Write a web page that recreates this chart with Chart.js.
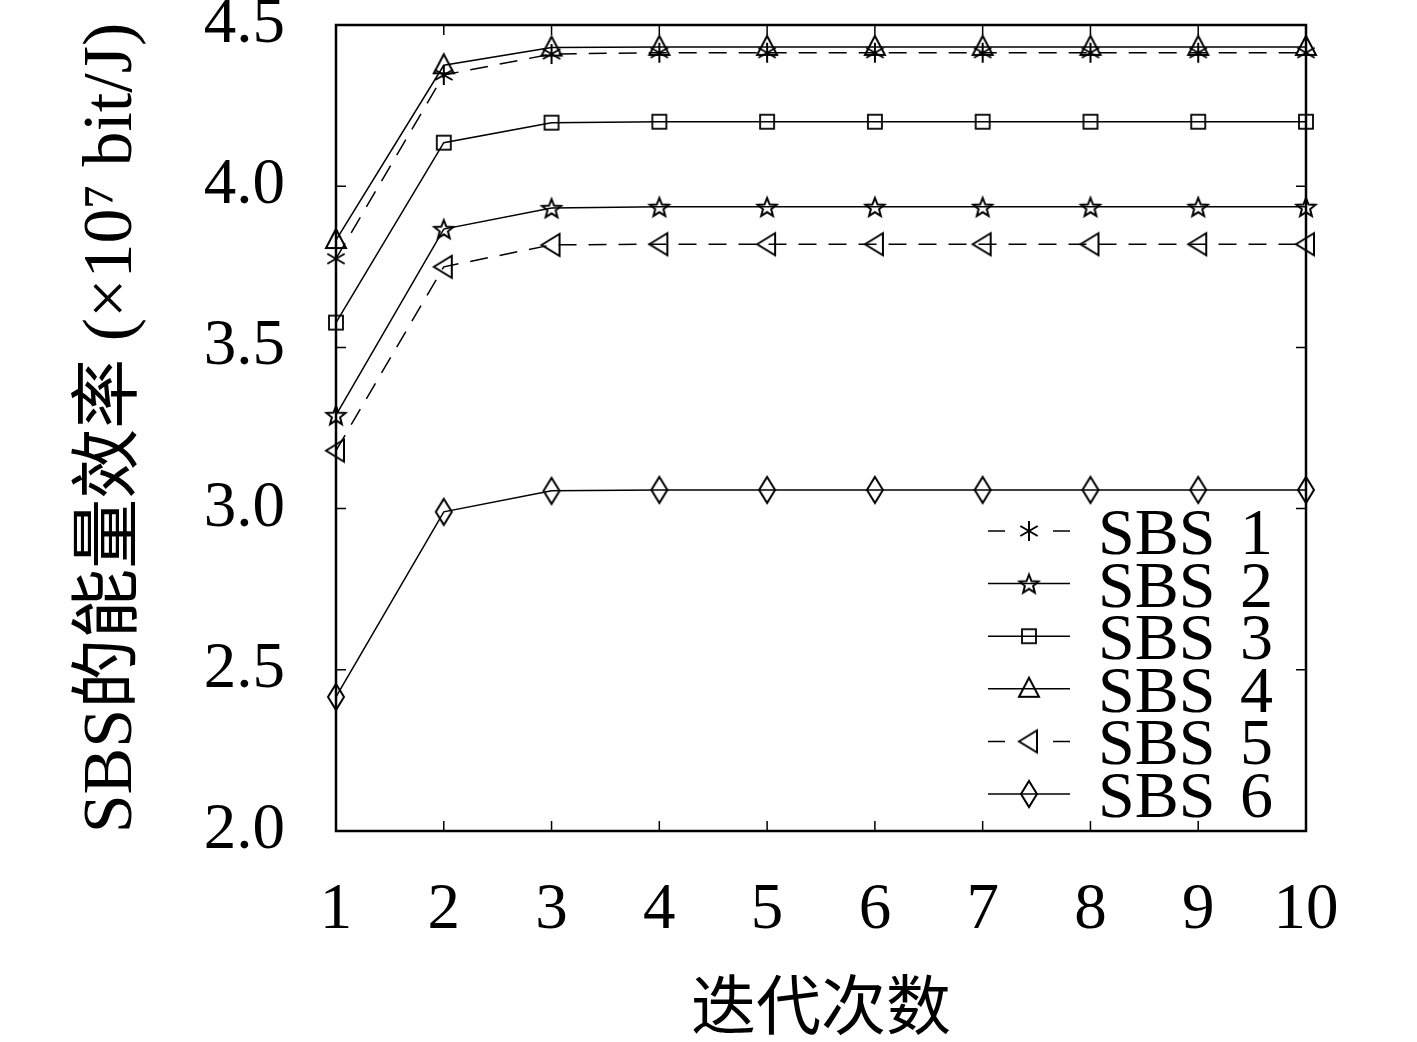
<!DOCTYPE html>
<html>
<head>
<meta charset="utf-8">
<script src="https://cdn.jsdelivr.net/npm/chart.js@4"></script>
<style>
html,body{margin:0;padding:0;background:#fff;}
#wrap{width:1417px;height:1042px;position:relative;}
</style>
</head>
<body>
<div id="wrap"><canvas id="c"></canvas></div>
<script>
// ---- data ----
const iterations = ['1','2','3','4','5','6','7','8','9','10'];
const yTickLabels = ['2.0','2.5','3.0','3.5','4.0','4.5'];
const seriesNames = ['SBS 1','SBS 2','SBS 3','SBS 4','SBS 5','SBS 6'];
const sbs1 = [3.775, 4.345, 4.410, 4.414, 4.414, 4.414, 4.414, 4.414, 4.414, 4.414];
const sbs2 = [3.290, 3.867, 3.932, 3.936, 3.936, 3.936, 3.936, 3.936, 3.936, 3.936];
const sbs3 = [3.577, 4.135, 4.197, 4.200, 4.200, 4.200, 4.200, 4.200, 4.200, 4.200];
const sbs4 = [3.833, 4.375, 4.430, 4.432, 4.432, 4.432, 4.432, 4.432, 4.432, 4.432];
const sbs5 = [3.180, 3.750, 3.818, 3.820, 3.820, 3.820, 3.820, 3.820, 3.820, 3.820];
const sbs6 = [2.416, 2.990, 3.055, 3.058, 3.058, 3.058, 3.058, 3.058, 3.058, 3.058];

// ---- markers ----
function mk(w, h, draw){
  const c = document.createElement('canvas');
  c.width = w; c.height = h;
  const g = c.getContext('2d');
  g.strokeStyle = '#000'; g.lineWidth = 2; g.lineJoin = 'miter';
  draw(g, w/2, h/2);
  return c;
}
const mAsterisk = mk(26, 26, (g, cx, cy) => {
  const r = 10;
  [90, 30, 150].forEach(a => {
    const t = a * Math.PI / 180;
    g.beginPath();
    g.moveTo(cx - r*Math.cos(t), cy - r*Math.sin(t));
    g.lineTo(cx + r*Math.cos(t), cy + r*Math.sin(t));
    g.stroke();
  });
});
const mStar = mk(26, 26, (g, cx, cy) => {
  const R = 10, r = 4.3;
  g.beginPath();
  for (let i = 0; i < 10; i++) {
    const rad = i % 2 === 0 ? R : r;
    const t = -Math.PI/2 + i * Math.PI / 5;
    const px = cx + rad*Math.cos(t), py = cy + 1 + rad*Math.sin(t);
    if (i === 0) g.moveTo(px, py); else g.lineTo(px, py);
  }
  g.closePath(); g.stroke();
});
const mSquare = mk(20, 20, (g, cx, cy) => {
  g.lineWidth = 1.8;
  g.strokeRect(cx - 7, cy - 7, 14, 14);
});
const mTriUp = mk(28, 28, (g, cx, cy) => {
  g.beginPath();
  g.moveTo(cx, cy - 11); g.lineTo(cx + 10, cy + 8); g.lineTo(cx - 10, cy + 8);
  g.closePath(); g.stroke();
});
const mTriLeft = mk(28, 28, (g, cx, cy) => {
  g.beginPath();
  g.moveTo(cx - 10, cy); g.lineTo(cx + 8, cy - 11); g.lineTo(cx + 8, cy + 11);
  g.closePath(); g.stroke();
});
const mDiamond = mk(24, 32, (g, cx, cy) => {
  g.beginPath();
  g.moveTo(cx, cy - 13); g.lineTo(cx + 8, cy); g.lineTo(cx, cy + 13); g.lineTo(cx - 8, cy);
  g.closePath(); g.stroke();
});

const seriesValues = [sbs1, sbs2, sbs3, sbs4, sbs5, sbs6];
const markers = [mAsterisk, mStar, mSquare, mTriUp, mTriLeft, mDiamond];
const dashed = [true, false, false, false, true, false];

const datasets = seriesValues.map((vals, i) => ({
  label: seriesNames[i],
  data: vals,
  borderColor: '#000',
  borderWidth: 1.5,
  borderDash: dashed[i] ? [18, 12] : [],
  pointStyle: markers[i],
  pointRadius: 10,
  pointHoverRadius: 10,
  fill: false,
  tension: 0,
  clip: false
}));

const serif = "'Liberation Serif', 'Times New Roman', serif";

const boxPlugin = {
  id: 'box',
  beforeDatasetsDraw(chart) {
    const {ctx, chartArea: a, scales: {x, y}} = chart;
    ctx.save();
    ctx.strokeStyle = '#000';
    ctx.lineWidth = 1.5;
    const tl = 10;
    ctx.beginPath();
    x.ticks.forEach((t, i) => {
      const px = x.getPixelForTick(i);
      ctx.moveTo(px, a.bottom); ctx.lineTo(px, a.bottom - tl);
      ctx.moveTo(px, a.top); ctx.lineTo(px, a.top + tl);
    });
    y.ticks.forEach((t, i) => {
      const py = y.getPixelForTick(i);
      ctx.moveTo(a.left, py); ctx.lineTo(a.left + tl, py);
      ctx.moveTo(a.right, py); ctx.lineTo(a.right - tl, py);
    });
    ctx.stroke();
    ctx.lineWidth = 2.5;
    ctx.strokeRect(a.left, a.top, a.right - a.left, a.bottom - a.top);
    ctx.restore();
  },
  afterDraw(chart) {
    const {ctx} = chart;
    ctx.save();
    const x0 = 988, x1 = 1070, xm = 1029, xt = 1098, y0 = 531, dy = 52.6;
    chart.data.datasets.forEach((ds, i) => {
      const yy = y0 + i * dy;
      ctx.strokeStyle = '#000';
      ctx.lineWidth = 1.5;
      ctx.setLineDash(dashed[i] ? [17, 48] : []);
      ctx.beginPath(); ctx.moveTo(x0, yy); ctx.lineTo(x1, yy); ctx.stroke();
      ctx.setLineDash([]);
      const m = ds.pointStyle;
      ctx.drawImage(m, xm - m.width/2, yy - m.height/2);
      ctx.fillStyle = '#000';
      ctx.font = "66px " + serif;
      ctx.textBaseline = 'alphabetic';
      ctx.textAlign = 'left';
      try { ctx.wordSpacing = '8px'; } catch(e) {}
      ctx.fillText(ds.label, xt, yy + 23);
    });
    ctx.restore();
  }
};

new Chart(document.getElementById('c'), {
  type: 'line',
  data: { labels: iterations, datasets },
  plugins: [boxPlugin],
  options: {
    responsive: true,
    maintainAspectRatio: false,
    devicePixelRatio: 1,
    animation: false,
    layout: { padding: { top: 25, right: 111, left: 0, bottom: 0 } },
    plugins: { legend: { display: false }, tooltip: { enabled: false }, title: { display: false } },
    scales: {
      x: {
        type: 'category',
        offset: false,
        grid: { display: false, drawTicks: false },
        border: { display: false },
        ticks: { color: '#000', font: { family: serif, size: 65, lineHeight: 1 }, padding: 47, maxRotation: 0, autoSkip: false },
        title: { display: true, text: '迭代次数', color: '#000',
                 font: { family: "'Noto Sans CJK SC', sans-serif", size: 65, lineHeight: 1 }, padding: { top: 0, bottom: 5 } },
        afterFit(s) { s.height = 211; s.paddingLeft = 0; s.paddingRight = 0; }
      },
      y: {
        min: 2, max: 4.5,
        grid: { display: false, drawTicks: false },
        border: { display: false },
        ticks: { stepSize: 0.5, color: '#000', font: { family: serif, size: 65, lineHeight: 1 }, padding: 51,
                 callback: (v, i) => yTickLabels[i] },
        title: { display: true, text: 'SBS的能量效率 (×10⁷ bit/J)', color: '#000',
                 font: { family: "'Liberation Serif', 'Noto Sans CJK SC', serif", size: 70, lineHeight: 1 }, padding: { top: 78, bottom: 0 } },
        afterFit(s) { s.width = 336; s.paddingTop = 0; s.paddingBottom = 0; }
      }
    }
  }
});
</script>
</body>
</html>
